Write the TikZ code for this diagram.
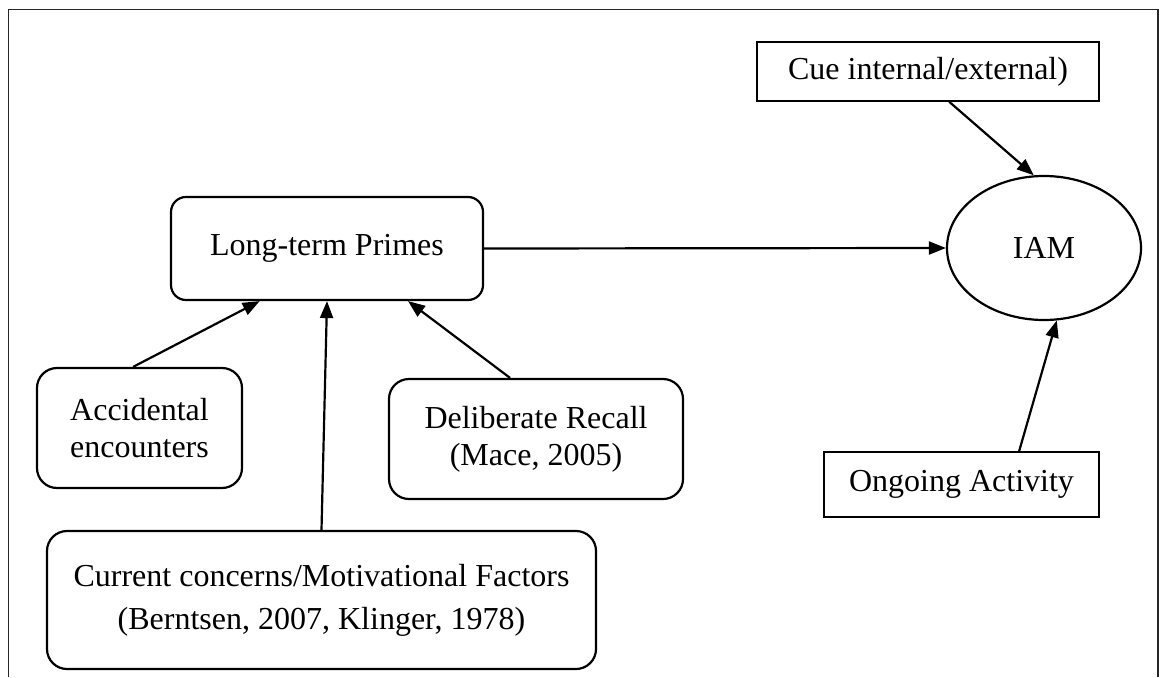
\documentclass[tikz,border=0pt]{standalone}
\usepackage{fontspec}
\setmainfont{Liberation Serif}
\usetikzlibrary{arrows.meta,shapes.geometric}
\begin{document}
\begin{tikzpicture}[x=1pt,y=-1pt,
  every node/.style={font=\fontsize{32}{37}\selectfont, align=center, inner sep=0pt, line width=2.2pt, draw=black},
  rbox/.style={rectangle, rounded corners=20pt},
  sbox/.style={rectangle, line width=1.5pt},
  conn/.style={line width=2.2pt, -{Triangle[length=17pt,width=13pt]}},
  frame/.style={line width=1.5pt, draw=black!85}
]
\useasboundingbox (0,0) rectangle (1161,677);
\draw[frame] (8.5,677) -- (8.5,9.5) -- (1158,9.5) -- (1158,677);

\node[rbox, rounded corners=15pt, minimum width=312pt, minimum height=103pt] (lp) at (327,248.5) {Long-term Primes};
\node[rbox, minimum width=205pt, minimum height=120pt] (acc) at (139.5,428) {Accidental\\encounters};
\node[rbox, minimum width=294pt, minimum height=120pt] (del) at (536,439) {Deliberate Recall\\(Mace, 2005)};
\node[rbox, minimum width=549pt, minimum height=138pt, font=\fontsize{32}{43}\selectfont] (cur) at (321.5,600) {Current concerns/Motivational Factors\\(Berntsen, 2007, Klinger, 1978)};
\node[sbox, minimum width=342pt, minimum height=59pt] (cue) at (928,71.5) {Cue internal/external)};
\node[sbox, minimum width=275pt, minimum height=65pt] (ong) at (961.5,484.5) {Ongoing Activity};
\node[ellipse, minimum width=194pt, minimum height=144pt] (iam) at (1044,248) {IAM};

\draw[conn] (acc.96) -- (lp.218.4);
\draw[conn] (cur.north) -- (lp.south);
\draw[conn] (del.113.4) -- (lp.327.6);
\draw[conn] (lp.east) -- (iam.west);
\draw[conn] (cue.305.4) -- (iam.98.7);
\draw[conn] (ong.30.4) -- (iam.280.2);
\end{tikzpicture}
\end{document}
